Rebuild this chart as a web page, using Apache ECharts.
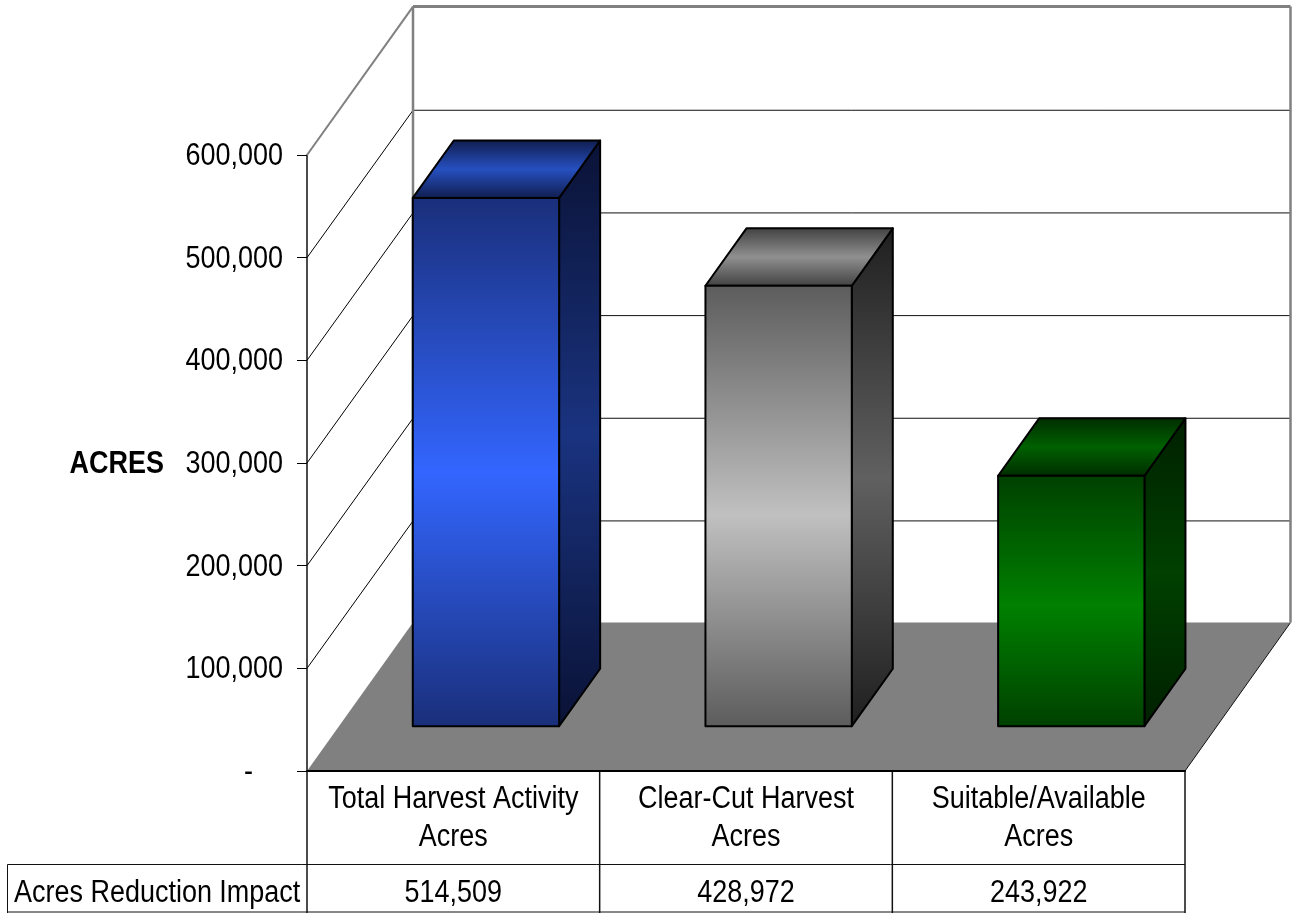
<!DOCTYPE html>
<html><head><meta charset="utf-8">
<style>html,body{margin:0;padding:0;background:#fff}#c{width:1298px;height:913px}</style>
<script src="https://cdn.jsdelivr.net/npm/echarts@6/dist/echarts.min.js"></script>
</head><body><div id="c"></div>
<script>
var categories = ['Total Harvest Activity\nAcres', 'Clear-Cut Harvest\nAcres', 'Suitable/Available\nAcres'];
var acres = [514509, 428972, 243922];
var tableValues = ['514,509', '428,972', '243,922'];
var yTicks = [0, 100000, 200000, 300000, 400000, 500000, 600000];
var yTitle = 'ACRES';
var rowTitle = 'Acres Reduction Impact';
var frontColors = [['#1a2f7a', '#3366ff'], ['#5c5c5c', '#c0c0c0'], ['#004000', '#008000']];
var topColors = [['#101c4c', '#2650c0'], ['#404040', '#909090'], ['#002c00', '#006000']];
var sideColors = [['#0a1235', '#1a3380'], ['#1f1f1f', '#606060'], ['#002000', '#004000']];

var FONT = '"Liberation Sans", Arial, sans-serif';
var DX = 106, DY = -148.4, FS = 31, SX = 0.87;

function grad(c, stop) {
  return {type: 'linear', x: 0, y: 0, x2: 0, y2: 1,
    colorStops: [{offset: 0, color: c[0]}, {offset: stop, color: c[1]}, {offset: 1, color: c[0]}]};
}
function poly(points, fill, stroke, w) {
  return {type: 'polygon', shape: {points: points},
    style: {fill: fill, stroke: stroke || null, lineWidth: w || 0, lineJoin: 'round'}};
}
function seg(a, b, color, w) {
  return {type: 'line', shape: {x1: a[0], y1: a[1], x2: b[0], y2: b[1]},
    style: {stroke: color, lineWidth: w}};
}
function label(text, x, y, align, bold) {
  return {type: 'text', x: x, y: y, scaleX: SX, z2: 10,
    style: {text: text, fill: '#000', fontSize: FS, fontFamily: FONT, fontWeight: bold ? 'bold' : 'normal',
      align: align, verticalAlign: 'middle', lineHeight: 38}};
}

var chart = echarts.init(document.getElementById('c'));

chart.setOption({
  animation: false,
  backgroundColor: '#fff',
  textStyle: {fontFamily: FONT},
  grid: {left: 307, right: 113, top: 155, bottom: 142, containLabel: false},
  xAxis: {
    type: 'category', data: categories, boundaryGap: true, z: 5,
    axisLine: {show: true, onZero: false, lineStyle: {color: '#000', width: 2}},
    axisTick: {show: false},
    axisLabel: {show: false}
  },
  yAxis: {
    type: 'value', min: 0, max: 600000, interval: 100000,
    axisLine: {show: true, lineStyle: {color: '#111', width: 1.5}},
    axisTick: {show: true, length: 10, lineStyle: {color: '#000', width: 1}},
    splitLine: {show: false},
    axisLabel: {show: false}
  },
  series: [{
    // walls and floor
    type: 'custom', silent: true, z: 1,
    data: yTicks.map(function (v) { return [0, v]; }),
    renderItem: function (params, api) {
      var v = api.value(1), kids = [];
      var band = api.size([1, 0])[0];
      var L = api.coord([0, v])[0] - band / 2, R = L + 3 * band;
      var y = api.coord([0, v])[1], y0 = api.coord([0, 0])[1];
      var by = y + DY + (v > 0 && v < 600000 ? 1 : 0);
      var a = [L, y], b = [L + DX, by], c = [R + DX - 0.5, by];
      if (v === 0) {
        kids.push(poly([a, b, c, [R, y]], '#808080'));
        kids.push(seg([R, y], c, '#111', 1));
      } else if (v === 600000) {
        kids.push(seg(a, b, '#808080', 2));
        kids.push(seg(b, c, '#808080', 3));
        kids.push(seg(b, [L + DX, y0 + DY], '#808080', 2.5));
        kids.push(seg(c, [R + DX - 0.5, y0 + DY], '#808080', 2.5));
      } else {
        kids.push(seg(a, b, '#000', 1));
        kids.push(seg(b, c, '#111', 1));
      }
      return {type: 'group', children: kids};
    }
  }, {
    // table rules and table text
    type: 'custom', silent: true, z: 2,
    data: [[0, 0], [1, 0], [2, 0]],
    renderItem: function (params, api) {
      var band = api.size([1, 0])[0], i = api.value(0);
      var cx = api.coord([i, 0])[0], x = cx + band / 2, y0 = api.coord([i, 0])[1];
      var kids = [
        seg([x, y0], [x, y0 + 142], '#111', 1.5),
        label(categories[i], cx, y0 + 47.5, 'center'),
        label(tableValues[i], cx, y0 + 122, 'center')
      ];
      if (i === 0) {
        kids.push(seg([x - band, y0], [x - band, y0 + 142], '#111', 1.5));
        kids.push(seg([7.5, y0 + 93.5], [x + 2 * band, y0 + 93.5], '#111', 1));
        kids.push(seg([7.5, y0 + 141], [x + 2 * band, y0 + 141], '#111', 1));
        kids.push(seg([7.5, y0 + 93.5], [7.5, y0 + 142], '#111', 1));
        kids.push(label(rowTitle, 14, y0 + 122, 'left'));
      }
      return {type: 'group', children: kids};
    }
  }, {
    // value-axis labels
    type: 'custom', silent: true, z: 2,
    data: yTicks.map(function (v) { return [0, v]; }),
    renderItem: function (params, api) {
      var v = api.value(1), band = api.size([1, 0])[0];
      var p = api.coord([0, v]), ax = p[0] - band / 2;
      var kids = [v === 0
        ? label('-', ax - 54, p[1] + 1.5, 'right')
        : label(echarts.format.addCommas(v), ax - 24, p[1] + 1.5, 'right')];
      if (v === 300000) kids.push(label(yTitle, ax - 143, p[1] + 1.5, 'right', true));
      return {type: 'group', children: kids};
    }
  }, {
    // 3-D bars
    type: 'custom', silent: true, z: 3,
    data: acres.map(function (v, i) { return [i, v]; }),
    encode: {x: 0, y: 1},
    renderItem: function (params, api) {
      var i = api.value(0), v = api.value(1);
      var band = api.size([1, 0])[0], hw = band / 4;
      var f = 0.302, k = 0.689;
      var base = api.coord([i, 0]), top = api.coord([i, v]);
      function P(xs, yv, d) {
        var yy = yv === 0 ? base[1] : top[1];
        return [base[0] + 0.6 + xs * hw + d * DX, yy + d * DY];
      }
      var lw = 2;
      return {type: 'group', children: [
        poly([P(1, 0, f), P(1, 0, k), P(1, v, k), P(1, v, f)], grad(sideColors[i], 0.5), '#000', lw),
        poly([P(-1, v, f), P(1, v, f), P(1, v, k), P(-1, v, k)], grad(topColors[i], 0.5), '#000', lw),
        poly([P(-1, 0, f), P(1, 0, f), P(1, v, f), P(-1, v, f)], grad(frontColors[i], 0.52), '#000', lw)
      ]};
    }
  }]
});
</script></body></html>
